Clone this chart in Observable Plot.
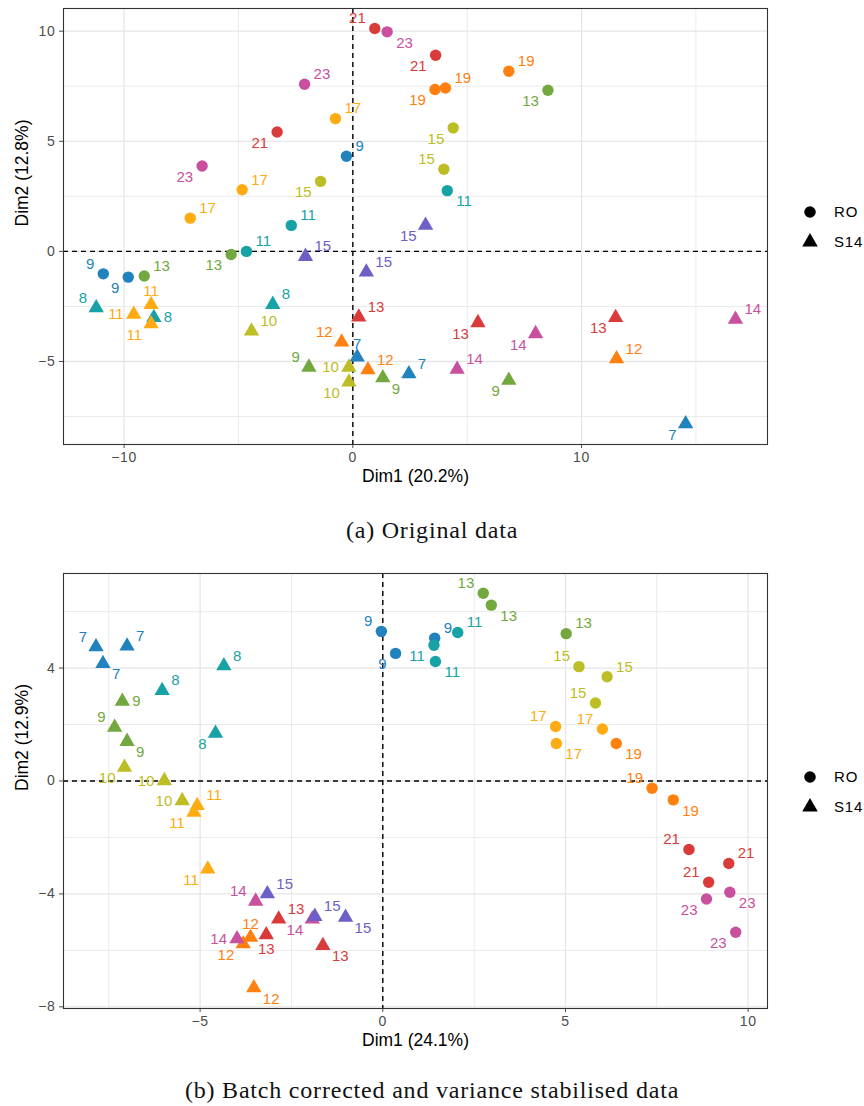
<!DOCTYPE html>
<html><head><meta charset="utf-8">
<script src="https://cdn.jsdelivr.net/npm/d3@7"></script>
<script src="https://cdn.jsdelivr.net/npm/@observablehq/plot@0.6"></script>
<style>
body{margin:0;background:#fff;font-family:"Liberation Sans",Arial,sans-serif;}
#wrap{position:relative;width:864px;height:1106px;overflow:hidden;}
.panel{position:absolute;left:0;}
.cap{position:absolute;left:0;width:864px;text-align:center;font-family:"Liberation Serif","Times New Roman",serif;font-size:24px;letter-spacing:0.8px;line-height:28px;color:#111;}
.legend{position:absolute;left:802px;}
.lg-swatch{padding-bottom:13px;letter-spacing:0.8px;}
.lg-swatch > svg{margin-right:16px !important;}
g[aria-label="x-axis tick label"] text, g[aria-label="y-axis tick label"] text{letter-spacing:0.7px;}
g[aria-label="point label"] text{letter-spacing:0.6px;}
g[aria-label="axis title"] text{letter-spacing:1.2px;}
</style></head>
<body><div id="wrap">
<div id="pa" class="panel" style="top:0"></div>
<div id="la" class="legend" style="top:203px"></div>
<div class="cap" style="top:516px">(a) Original data</div>
<div id="pb" class="panel" style="top:560px"></div>
<div id="lb" class="legend" style="top:768px"></div>
<div class="cap" style="top:1076px">(b) Batch corrected and variance stabilised data</div>
</div>
<script>
// ---- categories ----
const batches = ["RO", "S14"];
const roDays = [9, 11, 13, 15, 17, 19, 21, 23];
const s14Days = [7, 8, 9, 10, 11, 12, 13, 14, 15];
const palette = ["#2182bd", "#17a2a6", "#72a83e", "#bdbd25", "#ffab12", "#ff800e", "#d93b3b", "#c9509f", "#6c5fc7"];

// ---- panel (a): original data ----
const aRoDay  = [9, 9, 9, 11, 11, 11, 13, 13, 13, 15, 15, 15, 17, 17, 17, 19, 19, 19, 21, 21, 21, 23, 23, 23];
const aRoDim1 = [-10.91, -9.82, -0.28, -2.69, 4.13, -4.65, 8.53, -9.12, -5.32, 4.39, 3.98, -1.41, -4.84, -7.11, -0.76, 6.82, 3.59, 4.05, -3.31, 0.96, 3.62, -6.59, 1.50, -2.11];
const aRoDim2 = [-1.02, -1.17, 4.32, 1.18, 2.76, 0.00, 7.32, -1.12, -0.14, 5.61, 3.73, 3.18, 2.80, 1.51, 6.03, 8.18, 7.35, 7.42, 5.42, 10.12, 8.91, 3.88, 9.97, 7.59];
const aRoLab  = ["nw","sw","ne","ne","se","ne","sw","ne","sw","sw","nw","sw","ne","ne","ne","ne","sw","ne","sw","nw","sw","sw","se","ne"];

const aS14Day  = [7, 7, 7, 8, 8, 8, 9, 9, 9, 10, 10, 10, 11, 11, 11, 12, 12, 12, 13, 13, 13, 14, 14, 14, 15, 15, 15];
const aS14Dim1 = [0.19, 2.45, 14.55, -11.22, -8.70, -3.50, -1.92, 1.31, 6.82, -4.43, -0.17, -0.17, -9.58, -8.82, -8.82, -0.49, 0.66, 11.53, 0.26, 5.47, 11.49, 4.56, 7.99, 16.73, 3.18, -2.07, 0.59];
const aS14Dim2 = [-4.80, -5.56, -7.83, -2.56, -3.01, -2.41, -5.26, -5.74, -5.86, -3.62, -5.26, -5.94, -2.86, -2.42, -3.29, -4.12, -5.38, -4.88, -2.98, -3.24, -3.01, -5.36, -3.74, -3.09, 1.18, -0.23, -0.94];
const aS14Lab  = ["n","ne","sw","nw","e","ne","nw","se","sw","ne","w","sw","w","n","sw","nw","ne","ne","ne","sw","sw","ne","sw","ne","sw","ne","ne"];

const aXTicks = [-10, 0, 10], aXMinor = [-5, 5, 15];
const aYTicks = [-5, 0, 5, 10], aYMinor = [-7.5, -2.5, 2.5, 7.5];

// ---- panel (b): batch corrected and variance stabilised ----
const bRoDay  = [9, 9, 9, 11, 11, 11, 13, 13, 13, 15, 15, 15, 17, 17, 17, 19, 19, 19, 21, 21, 21, 23, 23, 23];
const bRoDim1 = [-0.04, 0.35, 1.42, 1.40, 2.05, 1.44, 2.75, 2.97, 5.02, 5.37, 6.14, 5.82, 4.73, 4.75, 6.01, 6.39, 7.37, 7.95, 8.38, 9.47, 8.92, 8.86, 9.50, 9.66];
const bRoDim2 = [5.30, 4.52, 5.06, 4.81, 5.26, 4.23, 6.65, 6.23, 5.22, 4.05, 3.69, 2.76, 1.93, 1.33, 1.84, 1.33, -0.26, -0.67, -2.43, -2.92, -3.59, -4.18, -3.94, -5.36];
const bRoLab  = ["nw","sw","ne","sw","ne","se","nw","se","ne","nw","ne","nw","nw","se","nw","se","nw","se","nw","ne","nw","sw","se","sw"];

const bS14Day  = [7, 7, 7, 8, 8, 8, 9, 9, 9, 10, 10, 10, 11, 11, 11, 12, 12, 12, 13, 13, 13, 14, 14, 14, 15, 15, 15];
const bS14Dim1 = [-7.85, -7.00, -7.66, -4.35, -6.04, -4.58, -7.13, -7.34, -7.00, -7.07, -5.98, -5.49, -5.08, -5.17, -4.79, -3.62, -3.82, -3.53, -2.85, -3.19, -1.64, -3.48, -3.99, -1.93, -3.16, -1.86, -1.02];
const bS14Dim2 = [4.75, 4.78, 4.16, 4.08, 3.20, 1.69, 2.82, 1.90, 1.40, 0.48, 0.01, -0.70, -0.87, -1.11, -3.12, -5.54, -5.77, -7.33, -4.89, -5.45, -5.83, -4.26, -5.59, -4.89, -4.00, -4.80, -4.83];
const bS14Lab  = ["nw","ne","se","ne","ne","sw","e","nw","se","sw","w","w","ne","sw","sw","n","sw","se","ne","s","se","nw","w","sw","ne","ne","se"];

const bXTicks = [-5, 0, 5, 10], bXMinor = [-7.5, -2.5, 2.5, 7.5];
const bYTicks = [-8, -4, 0, 4], bYMinor = [-6, -2, 2, 6];

// ---- build tables ----
function rows(batch, days, dim1, dim2, lab) {
  const levels = batch === "RO" ? roDays : s14Days;
  return days.map((day, i) => ({batch, day, rank: levels.indexOf(day), dim1: dim1[i], dim2: dim2[i], lab: lab[i]}));
}
const dataA = [...rows("RO", aRoDay, aRoDim1, aRoDim2, aRoLab), ...rows("S14", aS14Day, aS14Dim1, aS14Dim2, aS14Lab)];
const dataB = [...rows("RO", bRoDay, bRoDim1, bRoDim2, bRoLab), ...rows("S14", bS14Day, bS14Dim1, bS14Dim2, bS14Lab)];

const OFF = {
  ne: [9, -10, "start"], nw: [-9, -10, "end"], se: [9, 11, "start"], sw: [-9, 11, "end"],
  e: [10, 0, "start"], w: [-10, 0, "end"], n: [0, -13, "middle"], s: [0, 14, "middle"]
};

const FONT = "'Liberation Sans', Arial, Helvetica, sans-serif";

function panel({data, xDomain, yDomain, xTicks, xMinor, yTicks, yMinor, xTitle, yTitle, marginTop, marginBottom}) {
  const labelMarks = Object.entries(OFF).map(([k, [dx, dy, ta]]) =>
    Plot.text(data.filter(d => d.lab === k), {
      x: "dim1", y: "dim2", text: d => String(d.day), fill: "rank",
      dx, dy, textAnchor: ta, fontSize: 15, ariaLabel: "point label"
    }));
  return Plot.plot({
    width: 864, height: 500,
    marginTop, marginBottom, marginLeft: 63, marginRight: 97,
    style: {fontFamily: FONT, background: "white", overflow: "visible"},
    x: {domain: xDomain},
    y: {domain: yDomain},
    color: {type: "ordinal", domain: d3.range(9), range: palette},
    symbol: {domain: batches, range: ["circle", "triangle"]},
    marks: [
      Plot.gridX(xMinor, {stroke: "#e8e8e8", strokeOpacity: 1, strokeWidth: 0.9}),
      Plot.gridY(yMinor, {stroke: "#e8e8e8", strokeOpacity: 1, strokeWidth: 0.9}),
      Plot.gridX(xTicks, {stroke: "#e6e6e6", strokeOpacity: 1, strokeWidth: 1.3}),
      Plot.gridY(yTicks, {stroke: "#e6e6e6", strokeOpacity: 1, strokeWidth: 1.3}),
      Plot.ruleX([0], {stroke: "black", strokeWidth: 1.4, strokeDasharray: "5,4"}),
      Plot.ruleY([0], {stroke: "black", strokeWidth: 1.4, strokeDasharray: "5,4"}),
      Plot.dot(data, {x: "dim1", y: "dim2", fill: "rank", symbol: "batch", r: 5.7}),
      ...labelMarks,
      Plot.axisX(xTicks, {tickSize: 4, tickPadding: 4, fontSize: 14, color: "#4d4d4d", label: null}),
      Plot.axisY(yTicks, {tickSize: 4, tickPadding: 4, fontSize: 14, color: "#4d4d4d", label: null}),
      Plot.text([xTitle], {frameAnchor: "bottom", dy: 37, text: d => d, fontSize: 17.5, fill: "black", ariaLabel: "axis title"}),
      Plot.text([yTitle], {frameAnchor: "left", dx: -41, rotate: -90, text: d => d, fontSize: 17.5, fill: "black", ariaLabel: "axis title"}),
      Plot.frame({stroke: "#333", strokeWidth: 1.1})
    ]
  });
}

const plotA = panel({data: dataA, xDomain: [-12.65, 18.13], yDomain: [-8.77, 11.03],
  xTicks: aXTicks, xMinor: aXMinor, yTicks: aYTicks, yMinor: aYMinor,
  xTitle: "Dim1 (20.2%)", yTitle: "Dim2 (12.8%)", marginTop: 8, marginBottom: 56});
const plotB = panel({data: dataB, xDomain: [-8.74, 10.53], yDomain: [-8.06, 7.35],
  xTicks: bXTicks, xMinor: bXMinor, yTicks: bYTicks, yMinor: bYMinor,
  xTitle: "Dim1 (24.1%)", yTitle: "Dim2 (12.9%)", marginTop: 13, marginBottom: 52});

document.getElementById("pa").appendChild(plotA);
document.getElementById("pb").appendChild(plotB);

const legOpts = {fill: "black", r: 5.8, columns: 1, swatchSize: 16, className: "lg",
  style: {fontSize: "15px", fontFamily: FONT, color: "black"}};
document.getElementById("la").appendChild(plotA.legend("symbol", legOpts));
document.getElementById("lb").appendChild(plotB.legend("symbol", legOpts));
</script>
</body></html>
